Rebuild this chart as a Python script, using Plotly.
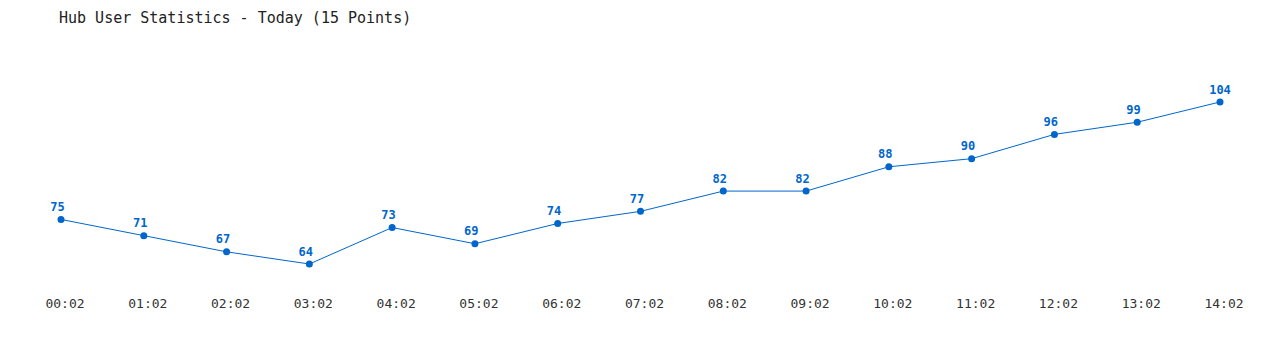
import plotly.graph_objects as go

times = ["00:02", "01:02", "02:02", "03:02", "04:02", "05:02", "06:02", "07:02",
         "08:02", "09:02", "10:02", "11:02", "12:02", "13:02", "14:02"]
users = [75, 71, 67, 64, 73, 69, 74, 77, 82, 82, 88, 90, 96, 99, 104]

blue = "#0066CC"
font_mono = "DejaVu Sans Mono, Liberation Mono, monospace"

# pad labels to 3 characters (non-breaking space) so they sit like the reference
labels = [str(v) + "\u00a0" * (3 - len(str(v))) for v in users]

fig = go.Figure(go.Scatter(
    x=times, y=users, mode="lines+markers+text",
    line=dict(color=blue, width=1),
    marker=dict(color=blue, size=7),
    text=labels, textposition="top center",
    textfont=dict(family=font_mono, size=12, color=blue, weight="bold"),
    cliponaxis=False, hoverinfo="x+y",
))

fig.update_layout(
    width=1280, height=350,
    margin=dict(l=61, r=60, t=40, b=60),
    paper_bgcolor="white", plot_bgcolor="white",
    showlegend=False,
    title=dict(text="Hub User Statistics - Today (15 Points)", x=59/1280, xanchor="left",
               y=1 - 18/350, yanchor="middle",
               font=dict(family=font_mono, size=15, color="#222222")),
    xaxis=dict(type="category", range=[0, 14], showgrid=False, zeroline=False,
               showline=False, ticks="", ticklabelstandoff=4, ticklabelshift=4,
               tickfont=dict(family=font_mono, size=13, color="#333333")),
    yaxis=dict(range=[57.58, 119.3], visible=False),
)

fig.write_html("out.html")
